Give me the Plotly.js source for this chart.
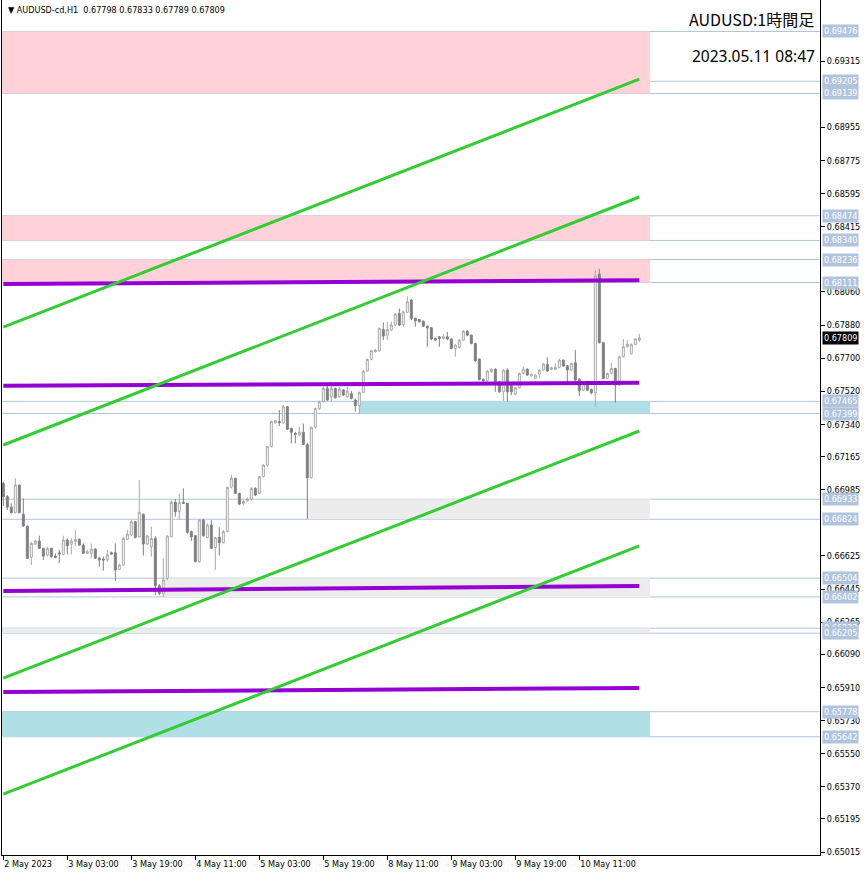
<!DOCTYPE html>
<html>
<head>
<meta charset="utf-8">
<script src="https://cdn.plot.ly/plotly-3.0.1.min.js"></script>
<style>
html,body{margin:0;padding:0;background:#fff;}
#chart{width:866px;height:876px;}
</style>
</head>
<body>
<div id="chart"></div>
<script>
// ---- Candle data (AUDUSD-cd, H1), bar 0 = 2 May 2023 11:00 ----
const openP = [
0.67019,0.66947,0.66890,0.66860,0.67010,0.66851,0.66787,0.66617,0.66690,0.66706,
0.66666,0.66630,0.66666,0.66624,0.66642,0.66633,0.66711,0.66688,0.66702,0.66715,
0.66684,0.66639,0.66639,0.66662,0.66612,0.66608,0.66603,0.66642,0.66642,0.66552,
0.66575,0.66715,0.66738,0.66811,0.66729,0.66851,0.66690,0.66675,0.66720,0.66463,
0.66421,0.66503,0.66729,0.66916,0.66865,0.66916,0.66911,0.66757,0.66735,0.66594,
0.66820,0.66724,0.66793,0.66670,0.66726,0.66697,0.66757,0.66998,0.67047,0.66965,
0.66911,0.66925,0.66934,0.66992,0.66965,0.67056,0.67119,0.67219,0.67349,0.67355,
0.67349,0.67436,0.67318,0.67291,0.67282,0.67297,0.67231,0.67050,0.67324,0.67427,
0.67463,0.67536,0.67490,0.67535,0.67490,0.67527,0.67490,0.67508,0.67472,0.67441,
0.67514,0.67630,0.67693,0.67735,0.67740,0.67856,0.67825,0.67853,0.67880,0.67943,
0.67883,0.67949,0.68016,0.67916,0.67910,0.67901,0.67874,0.67865,0.67807,0.67816,
0.67807,0.67816,0.67804,0.67753,0.67758,0.67798,0.67847,0.67825,0.67780,0.67695,
0.67584,0.67577,0.67626,0.67640,0.67572,0.67517,0.67635,0.67550,0.67503,0.67539,
0.67617,0.67640,0.67604,0.67590,0.67613,0.67635,0.67666,0.67639,0.67639,0.67650,
0.67689,0.67659,0.67635,0.67675,0.67586,0.67526,0.67572,0.67530,0.67512,0.68157,
0.67784,0.67590,0.67617,0.67644,0.67554,0.67708,0.67762,0.67725,0.67775,0.67798];
const highP = [
0.67028,0.66956,0.66911,0.67047,0.67012,0.66938,0.66790,0.66702,0.66711,0.66735,
0.66670,0.66675,0.66670,0.66639,0.66657,0.66735,0.66720,0.66720,0.66766,0.66720,
0.66693,0.66657,0.66693,0.66666,0.66621,0.66621,0.66657,0.66648,0.66693,0.66584,
0.66729,0.66766,0.66820,0.66814,0.67037,0.66856,0.66738,0.66784,0.66733,0.66472,
0.66612,0.66738,0.66929,0.66934,0.66965,0.66992,0.66914,0.66762,0.66738,0.66824,
0.66826,0.66802,0.66820,0.66729,0.66781,0.66766,0.67001,0.67065,0.67050,0.66968,
0.66929,0.66943,0.66998,0.66998,0.67059,0.67123,0.67222,0.67360,0.67364,0.67418,
0.67445,0.67440,0.67322,0.67300,0.67327,0.67345,0.67237,0.67327,0.67431,0.67469,
0.67545,0.67554,0.67572,0.67540,0.67544,0.67532,0.67544,0.67521,0.67481,0.67518,
0.67635,0.67698,0.67745,0.67750,0.67866,0.67894,0.67898,0.67898,0.67945,0.67970,
0.67958,0.68037,0.68022,0.67920,0.67914,0.67905,0.67878,0.67869,0.67811,0.67820,
0.67831,0.67843,0.67807,0.67775,0.67802,0.67853,0.67851,0.67829,0.67784,0.67698,
0.67590,0.67635,0.67645,0.67645,0.67577,0.67640,0.67645,0.67555,0.67544,0.67621,
0.67653,0.67645,0.67617,0.67612,0.67640,0.67672,0.67704,0.67653,0.67671,0.67698,
0.67693,0.67662,0.67675,0.67744,0.67590,0.67572,0.67577,0.67535,0.68179,0.68186,
0.67789,0.67621,0.67675,0.67648,0.67713,0.67804,0.67798,0.67780,0.67808,0.67833];
const lowP = [
0.66896,0.66874,0.66856,0.66856,0.66856,0.66784,0.66608,0.66575,0.66684,0.66664,
0.66603,0.66624,0.66615,0.66612,0.66586,0.66630,0.66633,0.66633,0.66680,0.66680,
0.66635,0.66635,0.66612,0.66608,0.66566,0.66545,0.66594,0.66630,0.66488,0.66548,
0.66572,0.66711,0.66735,0.66720,0.66726,0.66626,0.66684,0.66621,0.66412,0.66412,
0.66402,0.66494,0.66726,0.66838,0.66820,0.66907,0.66747,0.66706,0.66590,0.66588,
0.66729,0.66720,0.66662,0.66548,0.66626,0.66693,0.66753,0.66992,0.66961,0.66901,
0.66901,0.66920,0.66925,0.66950,0.66961,0.67052,0.67110,0.67215,0.67345,0.67331,
0.67345,0.67309,0.67237,0.67237,0.67278,0.67228,0.66825,0.67046,0.67318,0.67418,
0.67460,0.67469,0.67463,0.67480,0.67485,0.67494,0.67485,0.67476,0.67409,0.67399,
0.67509,0.67625,0.67688,0.67730,0.67735,0.67798,0.67798,0.67848,0.67875,0.67875,
0.67871,0.67945,0.67907,0.67871,0.67893,0.67869,0.67762,0.67798,0.67793,0.67762,
0.67802,0.67800,0.67748,0.67708,0.67753,0.67793,0.67820,0.67775,0.67680,0.67578,
0.67571,0.67571,0.67621,0.67517,0.67512,0.67468,0.67463,0.67499,0.67499,0.67535,
0.67612,0.67603,0.67599,0.67586,0.67590,0.67630,0.67625,0.67635,0.67635,0.67645,
0.67653,0.67572,0.67630,0.67576,0.67494,0.67521,0.67521,0.67503,0.67436,0.67780,
0.67586,0.67586,0.67612,0.67458,0.67549,0.67704,0.67757,0.67720,0.67770,0.67789];
const closeP = [
0.66947,0.66890,0.66860,0.67010,0.66860,0.66787,0.66612,0.66693,0.66706,0.66666,
0.66624,0.66666,0.66621,0.66617,0.66635,0.66711,0.66680,0.66706,0.66715,0.66684,
0.66639,0.66648,0.66662,0.66612,0.66603,0.66603,0.66630,0.66635,0.66548,0.66575,
0.66720,0.66744,0.66811,0.66726,0.66862,0.66690,0.66733,0.66720,0.66463,0.66421,
0.66494,0.66733,0.66916,0.66865,0.66916,0.66911,0.66753,0.66729,0.66594,0.66820,
0.66735,0.66793,0.66666,0.66724,0.66697,0.66757,0.66998,0.67047,0.66965,0.66907,
0.66920,0.66934,0.66992,0.66956,0.67056,0.67119,0.67219,0.67355,0.67360,0.67349,
0.67436,0.67313,0.67297,0.67287,0.67297,0.67231,0.67050,0.67324,0.67427,0.67463,
0.67536,0.67472,0.67535,0.67485,0.67532,0.67499,0.67521,0.67481,0.67441,0.67514,
0.67630,0.67693,0.67740,0.67744,0.67862,0.67820,0.67856,0.67880,0.67940,0.67880,
0.67952,0.68006,0.67916,0.67903,0.67898,0.67874,0.67865,0.67804,0.67798,0.67807,
0.67816,0.67804,0.67753,0.67771,0.67798,0.67847,0.67825,0.67780,0.67686,0.67584,
0.67577,0.67630,0.67640,0.67568,0.67517,0.67635,0.67517,0.67517,0.67539,0.67617,
0.67640,0.67608,0.67613,0.67608,0.67635,0.67668,0.67630,0.67648,0.67650,0.67689,
0.67657,0.67635,0.67671,0.67581,0.67523,0.67568,0.67526,0.67512,0.68146,0.67784,
0.67590,0.67617,0.67644,0.67554,0.67708,0.67762,0.67775,0.67775,0.67804,0.67809];

// time axis labels (bar index -> label)
const timeTickBars = [0,16,32,48,64,80,96,112,128,144];
const timeTickLabels = ["2 May 2023","3 May 03:00","3 May 19:00","4 May 11:00","5 May 03:00",
  "5 May 19:00","8 May 11:00","9 May 03:00","9 May 19:00","10 May 11:00"];

// price axis ticks (those fully hidden under level labels in the original are left out)
const priceTicks = [0.69315,0.68955,0.68775,0.68595,0.68415,0.68060,0.67880,0.67700,
  0.67520,0.67340,0.67165,0.66985,0.66625,0.66445,0.66265,0.66090,0.65910,
  0.65730,0.65550,0.65370,0.65195,0.65015];

// horizontal level lines
const levelPrices = [0.69476,0.69205,0.69139,0.68474,0.68340,0.68236,0.68111,0.67465,0.67399,
  0.66933,0.66824,0.66504,0.66402,0.66232,0.66205,0.65778,0.65642];

// zones: top, bottom, start bar (null = from chart start), kind
const zoneTop    = [0.69476,0.68474,0.68236,0.67465,0.66933,0.66504,0.66232,0.65778];
const zoneBottom = [0.69139,0.68340,0.68111,0.67399,0.66824,0.66402,0.66205,0.65642];
const zoneStart  = [null,null,null,89,76,40,null,null];
const zoneKind   = ["supply","supply","supply","demand","gap","gap","gap","demand"];
const zoneEndBar = 161.7;

// trend lines: [price at bar 0, price at last bar]
const trendBars = [0,159];
const greenLines = [[0.67869,0.69217],[0.67228,0.68576],[0.65961,0.67304],[0.65330,0.66679]];
const purpleLines = [[0.68103,0.68124],[0.67550,0.67566],[0.66434,0.66461],[0.65885,0.65907]];

const lastPrice = 0.67809;
const headerText = "▼ AUDUSD-cd,H1  0.67798 0.67833 0.67789 0.67809";
const titleText = "AUDUSD:1時間足";
const stampText = "2023.05.11 08:47";

// ---- build ----
const barIdx = openP.map((_, i) => i);
const axisFont = {family:"DejaVu Sans Condensed, DejaVu Sans, Liberation Sans, sans-serif", size:9, color:"#000"};
const zoneColors = {supply:"#ffd1d9", demand:"#b0e0e6", gap:"#ececec"};
const X0 = -0.33, X1 = 204.17;

const traces = [{
  type:"candlestick", x:barIdx, open:openP, high:highP, low:lowP, close:closeP,
  increasing:{line:{color:"#a8a8a8", width:1}, fillcolor:"#ffffff"},
  decreasing:{line:{color:"#808080", width:1}, fillcolor:"#808080"},
  whiskerwidth:0, hoverinfo:"skip", showlegend:false
}];
purpleLines.forEach(l => traces.push({type:"scatter", mode:"lines", x:trendBars, y:l,
  line:{color:"#9400d3", width:4}, hoverinfo:"skip", showlegend:false}));
greenLines.forEach(l => traces.push({type:"scatter", mode:"lines", x:trendBars, y:l,
  line:{color:"#32cd32", width:3}, hoverinfo:"skip", showlegend:false}));

const shapes = [];
zoneTop.forEach((t, i) => shapes.push({type:"rect", layer:"below", xref:"x", yref:"y",
  x0: zoneStart[i] === null ? X0 : zoneStart[i], x1: zoneEndBar, y0: zoneBottom[i], y1: t,
  fillcolor: zoneColors[zoneKind[i]], line:{width:0}}));
levelPrices.forEach(p => shapes.push({type:"line", layer:"below", xref:"paper", yref:"y",
  x0:0, x1:1, y0:p, y1:p, line:{color:"#b0c4de", width:1}}));

const annotations = [];
levelPrices.forEach(p => annotations.push({xref:"paper", yref:"y", x:1, y:p, xanchor:"left", yanchor:"middle",
  xshift:2, text:p.toFixed(5), showarrow:false, bgcolor:"#b0c4de", borderpad:1,
  font:{family:axisFont.family, size:9, color:"#ffffff"}}));
annotations.push({xref:"paper", yref:"y", x:1, y:lastPrice, xanchor:"left", yanchor:"middle",
  xshift:2, text:lastPrice.toFixed(5), showarrow:false, bgcolor:"#000000", borderpad:1,
  font:{family:axisFont.family, size:9, color:"#ffffff"}});
annotations.push({xref:"paper", yref:"paper", x:0, y:1, xanchor:"left", yanchor:"middle", xshift:4, yshift:-10,
  text:headerText, showarrow:false, font:{family:axisFont.family, size:9, color:"#000"}});
annotations.push({xref:"paper", yref:"paper", x:1, y:1, xanchor:"right", yanchor:"middle", xshift:-4, yshift:-19,
  text:titleText, showarrow:false, font:{family:"Noto Sans CJK JP, Noto Sans, sans-serif", size:16, color:"#000"}});
annotations.push({xref:"paper", yref:"paper", x:1, y:1, xanchor:"right", yanchor:"middle", xshift:-3, yshift:-56,
  text:stampText, showarrow:false, font:{family:"Noto Sans, sans-serif", size:15.5, color:"#000"}});

const layout = {
  width:866, height:876,
  margin:{l:2, r:46, t:0, b:21},
  paper_bgcolor:"#ffffff", plot_bgcolor:"#ffffff",
  showlegend:false, hovermode:false,
  xaxis:{range:[X0, X1], showgrid:false, zeroline:false, showline:true, linecolor:"#000", linewidth:1,
    ticks:"outside", ticklen:4, tickcolor:"#000", tickvals:timeTickBars, ticktext:timeTickLabels,
    ticklabelposition:"outside right", tickfont:axisFont, rangeslider:{visible:false}, fixedrange:true},
  yaxis:{side:"right", range:[0.64999, 0.69647], showgrid:false, zeroline:false, showline:true, mirror:true,
    linecolor:"#000", linewidth:1, ticks:"outside", ticklen:4, tickcolor:"#000",
    tickvals:priceTicks, ticktext:priceTicks.map(v => v.toFixed(5)), tickfont:axisFont, fixedrange:true},
  shapes:shapes, annotations:annotations
};

Plotly.newPlot("chart", traces, layout, {staticPlot:true, displayModeBar:false});
</script>
</body>
</html>
